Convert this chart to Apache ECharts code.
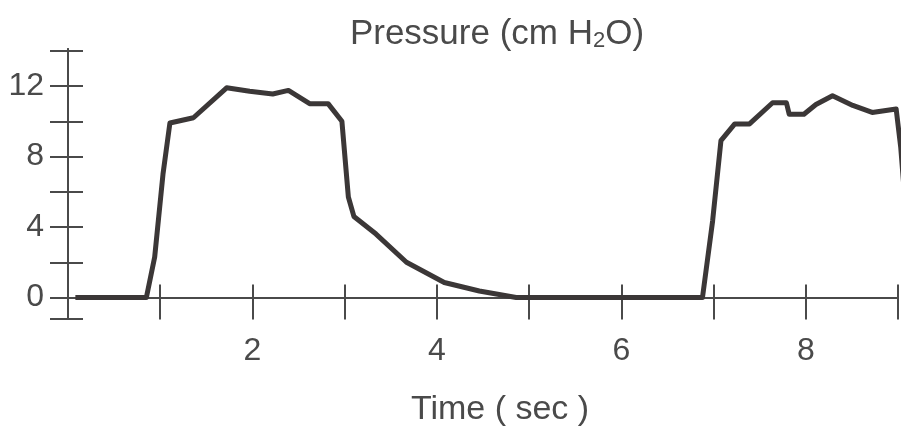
<!DOCTYPE html>
<html>
<head>
<meta charset="utf-8">
<script src="https://cdn.jsdelivr.net/npm/echarts@6/dist/echarts.min.js"></script>
<style>html,body{margin:0;padding:0;background:#fff;}#c{width:906px;height:432px;}</style>
</head>
<body>
<div id="c"></div>
<script>
// Data
const time = [0.08, 0.85, 0.94, 1.03, 1.105, 1.36, 1.72, 1.97, 2.22, 2.39, 2.62, 2.82, 2.97, 3.04, 3.10, 3.34, 3.67, 4.08, 4.46, 4.86, 6.88, 6.99, 7.08, 7.23, 7.39, 7.64, 7.79, 7.82, 7.98, 8.11, 8.29, 8.51, 8.72, 8.98, 9.03, 9.08];
const pressure = [0, 0, 2.3, 7.0, 9.9, 10.2, 11.9, 11.7, 11.55, 11.75, 11.0, 11.0, 10.0, 5.7, 4.6, 3.6, 2.0, 0.85, 0.37, 0, 0, 4.35, 8.9, 9.85, 9.85, 11.05, 11.05, 10.4, 10.4, 10.95, 11.45, 10.9, 10.5, 10.7, 8.5, 5.2];
const xTickValues = [0, 1, 2, 3, 4, 5, 6, 7, 8, 9];
const xLabelValues = [2, 4, 6, 8];
const yTickValues = [-1.22, 0, 2, 4, 6, 8, 10, 12, 14];
const yLabelValues = [0, 4, 8, 12];

const axisColor = '#4a4a4a';
const textColor = '#4a4a4a';
const font = 'Liberation Sans, Arial, sans-serif';

const chart = echarts.init(document.getElementById('c'));
const data = time.map((t, i) => [t, pressure[i]]);

const xBase = {
  type: 'value', min: 0, max: 9, position: 'bottom',
  axisLine: { show: true, onZero: true, lineStyle: { color: axisColor, width: 2 } },
  splitLine: { show: false }
};
const yBase = {
  type: 'value', min: -1.22, max: 14.1, position: 'left',
  axisLine: { show: true, lineStyle: { color: axisColor, width: 2 } },
  splitLine: { show: false }
};

chart.setOption({
  animation: false,
  backgroundColor: '#fff',
  title: {
    text: 'Pressure (cm H{sub|2}O)',
    left: 492, top: 12, textAlign: 'center',
    textStyle: {
      fontFamily: font, fontSize: 35, fontWeight: 'normal', color: textColor,
      rich: { sub: { fontFamily: font, fontSize: 22, color: textColor, verticalAlign: 'bottom', lineHeight: 30 } }
    }
  },
  grid: { left: 68, right: 8, top: 49, bottom: 113, containLabel: false, outerBoundsMode: 'none' },
  xAxis: [
    Object.assign({}, xBase, {
      name: 'Time ( sec )', nameLocation: 'middle', nameGap: 74,
      nameTextStyle: { fontFamily: font, fontSize: 34, color: textColor, padding: [0, 0, 0, 34] },
      axisTick: { show: true, inside: true, length: 13, customValues: xTickValues, lineStyle: { color: axisColor, width: 2 } },
      axisLabel: { show: true, customValues: xLabelValues, margin: 16, fontFamily: font, fontSize: 32, color: textColor }
    }),
    Object.assign({}, xBase, {
      axisTick: { show: true, inside: false, length: 22, customValues: xTickValues, lineStyle: { color: axisColor, width: 2 } },
      axisLabel: { show: false }
    })
  ],
  yAxis: [
    Object.assign({}, yBase, {
      axisTick: { show: true, inside: false, length: 18, customValues: yTickValues, lineStyle: { color: axisColor, width: 2 } },
      axisLabel: { show: true, customValues: yLabelValues, margin: 24, fontFamily: font, fontSize: 32, color: textColor }
    }),
    Object.assign({}, yBase, {
      axisTick: { show: true, inside: true, length: 15, customValues: yTickValues, lineStyle: { color: axisColor, width: 2 } },
      axisLabel: { show: false }
    })
  ],
  series: [{
    type: 'line', xAxisIndex: 0, yAxisIndex: 0,
    data: data, showSymbol: false, symbol: 'none', smooth: false, clip: false,
    lineStyle: { color: '#3b3737', width: 5, join: 'round' }
  }]
});
</script>
</body>
</html>
